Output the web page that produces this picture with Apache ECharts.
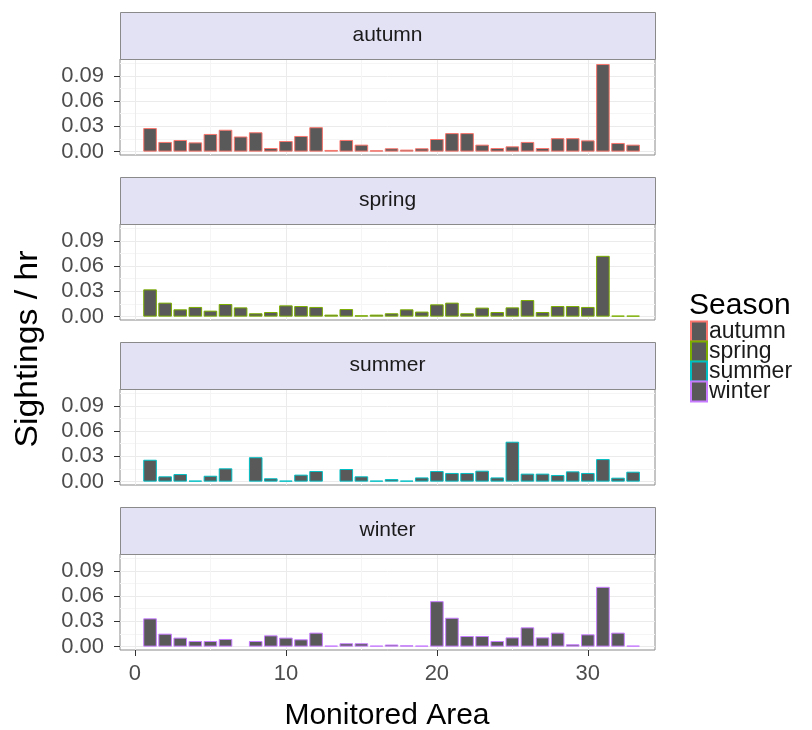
<!DOCTYPE html>
<html>
<head>
<meta charset="utf-8">
<script src="https://cdn.jsdelivr.net/npm/echarts@6/dist/echarts.min.js"></script>
<style>
html, body { margin: 0; padding: 0; background: #ffffff; }
#chart { width: 812px; height: 730px; }
</style>
</head>
<body>
<div id="chart"></div>
<script>
// Monitored areas 1..33 along the x axis
const areas = [1,2,3,4,5,6,7,8,9,10,11,12,13,14,15,16,17,18,19,20,21,22,23,24,25,26,27,28,29,30,31,32,33];

const seasons = ['autumn', 'spring', 'summer', 'winter'];

// Sightings per hour by area (null = area not surveyed that season)
const autumn = [0.028, 0.0115, 0.0138, 0.011, 0.021, 0.026, 0.018, 0.023, 0.0043, 0.0126, 0.0186, 0.029, 0.002, 0.0138, 0.0083, 0.0016, 0.004,
                0.0024, 0.004, 0.015, 0.022, 0.022, 0.0083, 0.0043, 0.0063, 0.0115, 0.0043, 0.016, 0.016, 0.0134, 0.104, 0.0103, 0.0083];
const spring = [0.0324, 0.0166, 0.0087, 0.0115, 0.0071, 0.015, 0.011, 0.004, 0.0055, 0.0134, 0.0126, 0.0115, 0.0024, 0.009, 0.0016, 0.0024, 0.004,
                0.0087, 0.006, 0.0146, 0.0166, 0.004, 0.0107, 0.0055, 0.011, 0.0197, 0.0055, 0.0126, 0.0126, 0.0115, 0.0722, 0, 0];
const summer = [0.026, 0.0063, 0.009, 0.001, 0.007, 0.0158, null, 0.029, 0.004, 0.001, 0.0083, 0.0126, null, 0.015, 0.0063, 0.001, 0.003,
                0, 0.005, 0.0126, 0.0103, 0.0103, 0.013, 0.005, 0.0474, 0.0095, 0.0095, 0.0079, 0.0122, 0.0103, 0.0268, 0.0047, 0.0118];
const winter = [0.0336, 0.0154, 0.0107, 0.0067, 0.0067, 0.0091, null, 0.0067, 0.0134, 0.0107, 0.0087, 0.0166, 0.0005, 0.004, 0.004, 0.0008, 0.0025,
                0.0016, 0.0005, 0.054, 0.0343, 0.0126, 0.0126, 0.0067, 0.011, 0.0229, 0.011, 0.0166, 0.0028, 0.0146, 0.071, 0.0166, 0];

const xTicks = [0, 10, 20, 30];
const xMinorTicks = [5, 15, 25];
const yTicks = [0, 0.03, 0.06, 0.09];
const yMinorTicks = [0.015, 0.045, 0.075, 0.105];

const seriesValues = [autumn, spring, summer, winter];
const seasonColors = ['#F8766D', '#7CAE00', '#00BFC4', '#C77CFF'];

const FONT = '"Liberation Sans", Arial, Helvetica, sans-serif';
const panelLeft = 120, panelWidth = 535;
const stripTop0 = 12, stripHeight = 47, plotHeight = 96, panelStep = 165;
const xRange = [-0.99, 34.45];
const yRange = [-0.004, 0.110];

const grids = [], xAxes = [], yAxes = [], series = [], graphics = [];

seasons.forEach((name, k) => {
  const stripTop = stripTop0 + k * panelStep;
  const plotTop = stripTop + stripHeight;
  const isBottom = k === seasons.length - 1;

  grids.push({
    left: panelLeft, top: plotTop, width: panelWidth, height: plotHeight,
    show: true, borderColor: '#8a8a8a', borderWidth: 1, backgroundColor: 'transparent'
  });

  // main x axis (major grid + labels on the bottom panel)
  xAxes.push({
    type: 'value', gridIndex: k, min: xRange[0], max: xRange[1], position: 'bottom',
    axisLine: { show: false, onZero: false },
    axisTick: { show: isBottom, customValues: xTicks, length: 6, lineStyle: { color: '#333333' } },
    axisLabel: { show: isBottom, customValues: xTicks, fontFamily: FONT, fontSize: 22, color: '#4d4d4d', margin: 13 },
    splitLine: { show: true, lineStyle: { color: '#ebebeb', width: 1 } }
  });
  // minor x grid
  xAxes.push({
    type: 'value', gridIndex: k, min: xRange[0], max: xRange[1], position: 'bottom',
    axisLine: { show: false, onZero: false },
    axisTick: { show: false, customValues: xMinorTicks },
    axisLabel: { show: false, customValues: xMinorTicks },
    splitLine: { show: true, lineStyle: { color: '#f5f5f5', width: 1 } }
  });

  // main y axis
  yAxes.push({
    type: 'value', gridIndex: k, min: yRange[0], max: yRange[1], position: 'left',
    axisLine: { show: false, onZero: false },
    axisTick: { show: true, customValues: yTicks, length: 6, lineStyle: { color: '#333333' } },
    axisLabel: { show: true, customValues: yTicks, fontFamily: FONT, fontSize: 22, color: '#4d4d4d', margin: 16,
                 formatter: v => v.toFixed(2) },
    splitLine: { show: true, lineStyle: { color: '#ebebeb', width: 1 } }
  });
  // minor y grid
  yAxes.push({
    type: 'value', gridIndex: k, min: yRange[0], max: yRange[1], position: 'left',
    axisLine: { show: false, onZero: false },
    axisTick: { show: false, customValues: yMinorTicks },
    axisLabel: { show: false, customValues: yMinorTicks },
    splitLine: { show: true, lineStyle: { color: '#f5f5f5', width: 1 } }
  });

  series.push({
    name: name,
    type: 'bar',
    xAxisIndex: 2 * k,
    yAxisIndex: 2 * k,
    barWidth: '90%',
    barMinHeight: 1,
    itemStyle: { color: '#595959', borderColor: seasonColors[k], borderWidth: 1 },
    emphasis: { disabled: true },
    data: areas.map((a, i) => [a, seriesValues[k][i]])
  });

  // facet strip
  graphics.push({
    type: 'rect', left: panelLeft, top: stripTop,
    shape: { width: panelWidth, height: stripHeight },
    style: { fill: '#e3e1f4', stroke: '#8a8a8a', lineWidth: 1 }, z: 10
  });
  graphics.push({
    type: 'text', x: panelLeft + panelWidth / 2, y: stripTop + stripHeight / 2,
    style: { text: name, fill: '#1a1a1a', font: '21px ' + FONT, textAlign: 'center', textVerticalAlign: 'middle' }, z: 11
  });
});

// axis titles and legend title
graphics.push({
  type: 'text', x: 387, y: 716,
  style: { text: 'Monitored Area', fill: '#000000', font: '30px ' + FONT, textAlign: 'center', textVerticalAlign: 'middle' }
});
graphics.push({
  type: 'text', x: 28, y: 349, rotation: Math.PI / 2, scaleX: 1.09,
  style: { text: 'Sightings / hr', fill: '#000000', font: '31px ' + FONT, textAlign: 'center', textVerticalAlign: 'middle' }
});
graphics.push({
  type: 'text', x: 689, y: 306,
  style: { text: 'Season', fill: '#000000', font: '30px ' + FONT, textAlign: 'left', textVerticalAlign: 'middle' }
});

const chart = echarts.init(document.getElementById('chart'), null, { renderer: 'canvas' });
chart.setOption({
  animation: false,
  backgroundColor: '#ffffff',
  grid: grids,
  xAxis: xAxes,
  yAxis: yAxes,
  series: series,
  legend: {
    data: seasons,
    orient: 'vertical',
    left: 690, top: 320,
    padding: 0,
    itemWidth: 16, itemHeight: 20, itemGap: -3,
    icon: 'rect',
    selectedMode: false,
    textStyle: { fontFamily: FONT, fontSize: 23, color: '#1a1a1a', padding: [0, 0, 0, -3] }
  },
  graphic: graphics
});
</script>
</body>
</html>
